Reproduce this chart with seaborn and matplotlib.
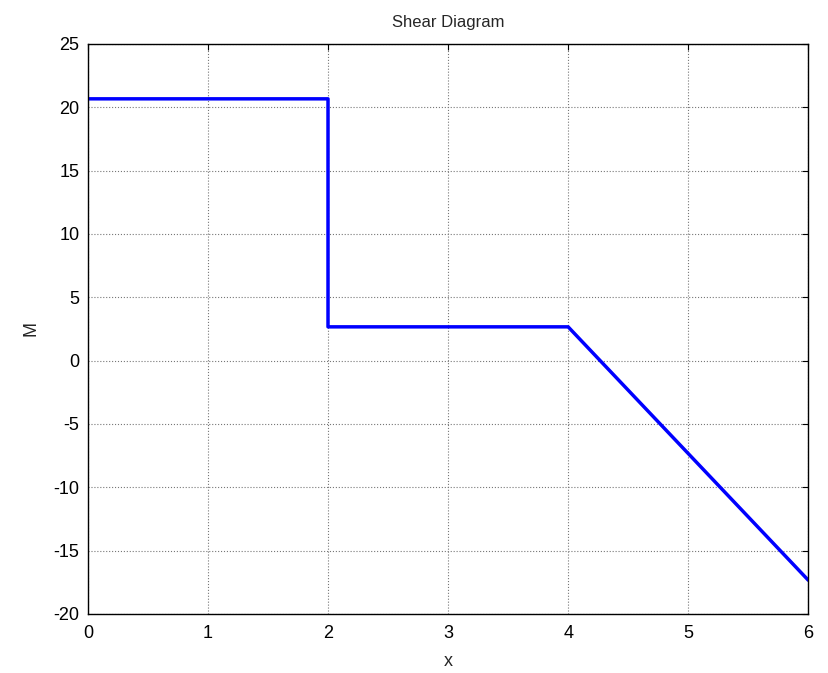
import matplotlib
matplotlib.use("Agg")
import matplotlib.pyplot as plt
import seaborn as sns
import pandas as pd

# shear diagram breakpoints
x_vals = [0, 2, 2, 4, 6]
shear_vals = [20.667, 20.667, 2.667, 2.667, -17.333]
x_ticks = [0, 1, 2, 3, 4, 5, 6]
y_ticks = [-20, -15, -10, -5, 0, 5, 10, 15, 20, 25]

df = pd.DataFrame({"x": x_vals, "M": shear_vals})

sns.set_style("white")
plt.rcParams['font.family'] = ['Liberation Sans', 'DejaVu Sans']
plt.rcParams['axes.unicode_minus'] = False

fig = plt.figure(figsize=(8.29, 6.73), dpi=100)
ax = fig.add_axes([0.106, 0.0877, 0.869, 0.847])

sns.lineplot(x="x", y="M", data=df, sort=False, estimator=None,
             color="#0000ff", linewidth=2.5, ax=ax)

ax.set_xlim(0, 6)
ax.set_ylim(-20, 25)
ax.set_xticks(x_ticks)
ax.set_yticks(y_ticks)
ax.grid(True, linestyle=":", color="#777777", linewidth=0.8)
ax.tick_params(direction="in", top=True, right=True, length=4, labelsize=13,
               colors="black")
ax.tick_params(axis="x", pad=8)
ax.tick_params(axis="y", pad=6)
for s in ax.spines.values():
    s.set_color("black")
    s.set_linewidth(1)

ax.set_title("Shear Diagram", fontsize=12, pad=12)
ax.set_xlabel("x", fontsize=13, labelpad=8)
ax.set_ylabel("M", fontsize=13, labelpad=10)

fig.savefig("out.png", dpi=100)
